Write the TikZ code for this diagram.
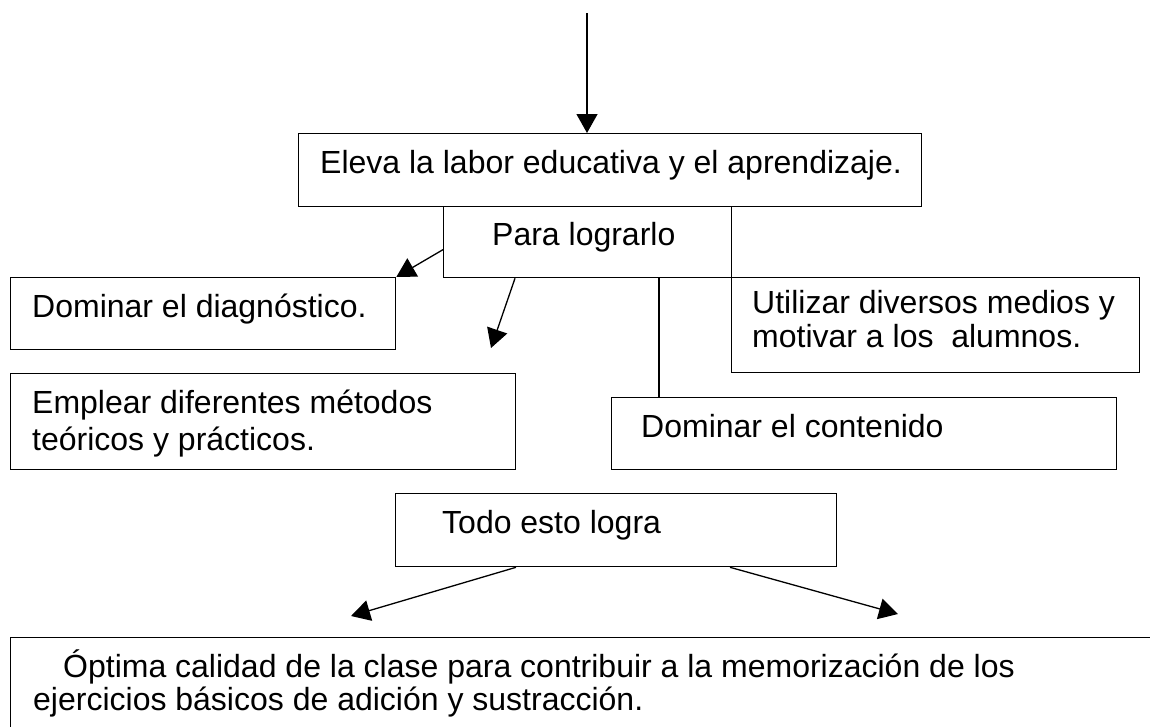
\documentclass[tikz,border=0pt]{standalone}
\usepackage{fontspec}
\setmainfont{Liberation Sans}
\usetikzlibrary{arrows.meta,calc}
\begin{document}
\begin{tikzpicture}[x=1pt,y=-1pt,
  box/.style={draw,line width=1.3pt,rectangle,inner sep=0pt,anchor=north west},
  txt/.style={anchor=base west,inner sep=0pt,font=\fontsize{32}{36}\selectfont},
  arr/.style={line width=1.3pt,-{Triangle[length=19pt,width=21pt]}},
  ln/.style={line width=1.3pt}]
\clip (0,0) rectangle (1150,726);
% boxes
\node[box,minimum width=623pt,minimum height=73pt] (b1) at (298,133) {};
\node[box,minimum width=288pt,minimum height=71pt] (para) at (443,206) {};
\node[box,minimum width=385pt,minimum height=72pt] (diag) at (10,277) {};
\node[box,minimum width=505pt,minimum height=96pt] (emp) at (10,373) {};
\node[box,minimum width=408pt,minimum height=95pt] (util) at (731,277) {};
\node[box,minimum width=505pt,minimum height=72pt] (cont) at (611,397) {};
\node[box,minimum width=441pt,minimum height=73pt] (todo) at (395,493) {};
\node[box,minimum width=1160pt,minimum height=120pt] (fin) at (10,637) {};
% texts
\node[txt] (t1) at (320,173) {Eleva la labor educativa y el aprendizaje.};
\node[txt] (tpara) at (492,245) {Para lograrlo};
\node[txt] (tdiag) at (32,317) {Dominar el diagnóstico.};
\node[txt] (temp1) at (32,413) {Emplear diferentes métodos};
\node[txt] (temp2) at (32,450) {teóricos y prácticos.};
\node[txt] (tutil1) at (752,313) {Utilizar diversos medios y};
\node[txt] (tutil2) at (752,347) {motivar a los\ \ alumnos.};
\node[txt] (tcont) at (641,437) {Dominar el contenido};
\node[txt] (ttodo) at (442,533) {Todo esto logra};
\node[txt] (tfin1) at (63,677) {Óptima calidad de la clase para contribuir a la memorización de los};
\node[txt] (tfin2) at (33,710) {ejercicios básicos de adición y sustracción.};
% connectors
\coordinate (top) at (587,13);
\draw[arr] (top) -- (top |- b1.north);
\draw[arr] ($(para.west)+(0,7.5)$) -- (diag.north east);
\coordinate (e2) at (491,348);
\draw[arr] ($(para.south west)+(72,0)$) -- (e2);
\coordinate (p3) at ($(para.south west)+(216,0)$);
\draw[ln] (p3) -- (p3 |- cont.north);
\coordinate (l1) at (351,616);
\draw[arr] ($(todo.south west)+(121,0)$) -- (l1);
\coordinate (r1) at (898,614);
\draw[arr] ($(todo.south west)+(335,0)$) -- (r1);
\end{tikzpicture}
\end{document}
